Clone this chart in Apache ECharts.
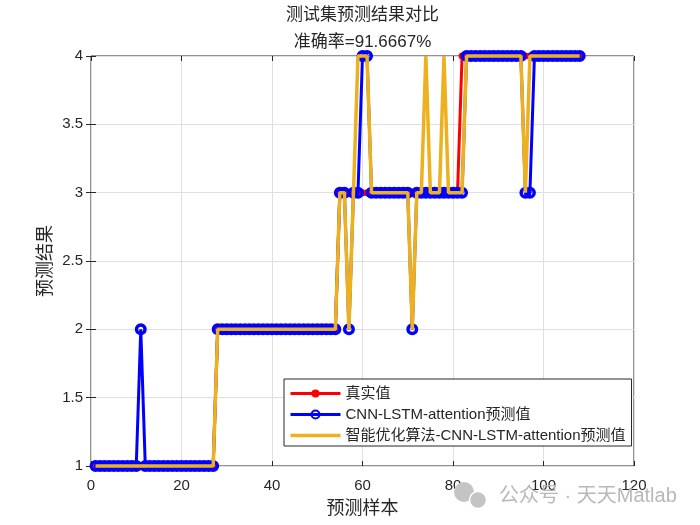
<!DOCTYPE html>
<html><head><meta charset="utf-8">
<script src="https://cdn.jsdelivr.net/npm/echarts@6/dist/echarts.min.js"></script>
<style>html,body{margin:0;padding:0;background:#fff}#c{width:700px;height:525px}</style>
</head><body><div id="c"></div>
<script>
const titleLines = ['测试集预测结果对比', '准确率=91.6667%'];
const xAxisName = '预测样本';
const yAxisName = '预测结果';
const seriesNames = ['真实值', 'CNN-LSTM-attention预测值', '智能优化算法-CNN-LSTM-attention预测值'];
const xTickRange = [0, 120, 20];
const yTickRange = [1, 4, 0.5];

const trueValues = [
  1,1,1,1,1,1,1,1,1,1,
  1,1,1,1,1,1,1,1,1,1,
  1,1,1,1,1,1,1,2,2,2,
  2,2,2,2,2,2,2,2,2,2,
  2,2,2,2,2,2,2,2,2,2,
  2,2,2,2,3,3,3,3,3,3,
  3,3,3,3,3,3,3,3,3,3,
  3,3,3,3,3,3,3,3,3,3,
  3,4,4,4,4,4,4,4,4,4,
  4,4,4,4,4,4,4,4,4,4,
  4,4,4,4,4,4,4,4
];
const cnnLstmAttValues = [
  1,1,1,1,1,1,1,1,1,1,
  2,1,1,1,1,1,1,1,1,1,
  1,1,1,1,1,1,1,2,2,2,
  2,2,2,2,2,2,2,2,2,2,
  2,2,2,2,2,2,2,2,2,2,
  2,2,2,2,3,3,2,3,3,4,
  4,3,3,3,3,3,3,3,3,3,
  2,3,3,3,3,3,3,3,3,3,
  3,3,4,4,4,4,4,4,4,4,
  4,4,4,4,4,3,3,4,4,4,
  4,4,4,4,4,4,4,4
];
const optimizedValues = [
  1,1,1,1,1,1,1,1,1,1,
  1,1,1,1,1,1,1,1,1,1,
  1,1,1,1,1,1,1,2,2,2,
  2,2,2,2,2,2,2,2,2,2,
  2,2,2,2,2,2,2,2,2,2,
  2,2,2,2,3,3,2,3,4,4,
  4,3,3,3,3,3,3,3,3,3,
  2,3,3,4,3,3,3,4,3,3,
  3,3,4,4,4,4,4,4,4,4,
  4,4,4,4,4,3,4,4,4,4,
  4,4,4,4,4,4,4,4
];

const toPairs = arr => arr.map((v, i) => [i + 1, v]);
const FONT = "'Liberation Sans', 'Noto Sans CJK SC', sans-serif";
const TXT = '#262626';
const ORANGE = '#edb120';

const chart = echarts.init(document.getElementById('c'), null, {renderer: 'canvas'});

const axisCommon = {
  axisLine: {show: false},
  axisTick: {show: true, inside: true, length: 5, lineStyle: {color: TXT, width: 1}},
};

chart.setOption({
  animation: false,
  backgroundColor: '#fff',
  title: {
    text: titleLines.join('\n'),
    left: 362.5, top: 2, padding: 0,
    textAlign: 'center',
    textStyle: {fontFamily: FONT, fontSize: 17, fontWeight: 'normal', color: TXT, lineHeight: 27}
  },
  grid: {left: 91, right: 66, top: 56, bottom: 59, show: true, borderColor: TXT, borderWidth: 1, backgroundColor: '#fff'},
  legend: {
    orient: 'vertical',
    left: 284, top: 379,
    padding: [7, 6, 3, 5],
    itemGap: 6,
    itemWidth: 50, itemHeight: 10,
    backgroundColor: '#fff',
    borderColor: TXT, borderWidth: 1, borderRadius: 0,
    lineStyle: {width: 3},
    textStyle: {fontFamily: FONT, fontSize: 15, color: TXT},
    data: [
      {name: seriesNames[0]},
      {name: seriesNames[1]},
      {name: seriesNames[2], icon: 'path://M0,0L50,0L50,3.5L0,3.5Z', itemStyle: {color: ORANGE}}
    ]
  },
  xAxis: [
    Object.assign({}, axisCommon, {
      type: 'value', min: xTickRange[0], max: xTickRange[1], interval: xTickRange[2],
      name: xAxisName, nameLocation: 'middle', nameGap: 34,
      nameTextStyle: {fontFamily: FONT, fontSize: 18, color: TXT},
      axisLabel: {fontFamily: FONT, fontSize: 15, color: TXT, margin: 12},
      splitLine: {show: true, lineStyle: {color: '#dfdfdf', width: 1}}
    }),
    Object.assign({}, axisCommon, {
      type: 'value', position: 'top', min: xTickRange[0], max: xTickRange[1], interval: xTickRange[2],
      axisLabel: {show: false}, splitLine: {show: false}
    })
  ],
  yAxis: [
    Object.assign({}, axisCommon, {
      type: 'value', min: yTickRange[0], max: yTickRange[1], interval: yTickRange[2],
      name: yAxisName, nameLocation: 'middle', nameGap: 36, nameMoveOverlap: false,
      nameTextStyle: {fontFamily: FONT, fontSize: 18, color: TXT},
      axisLabel: {fontFamily: FONT, fontSize: 15, color: TXT, margin: 8},
      splitLine: {show: true, lineStyle: {color: '#dfdfdf', width: 1}}
    }),
    Object.assign({}, axisCommon, {
      type: 'value', position: 'right', min: yTickRange[0], max: yTickRange[1], interval: yTickRange[2],
      axisLabel: {show: false}, splitLine: {show: false}
    })
  ],
  series: [
    {
      name: seriesNames[0], type: 'line', data: toPairs(trueValues),
      xAxisIndex: 0, yAxisIndex: 0, clip: false, z: 3,
      symbol: 'circle', symbolSize: 7,
      lineStyle: {color: '#ff0000', width: 3},
      itemStyle: {color: '#ff0000', borderWidth: 0}
    },
    {
      name: seriesNames[1], type: 'line', data: toPairs(cnnLstmAttValues),
      xAxisIndex: 0, yAxisIndex: 0, clip: false, z: 4,
      symbol: 'circle', symbolSize: 8.5,
      lineStyle: {color: '#0000ff', width: 3},
      itemStyle: {color: 'rgba(255,255,255,0)', borderColor: '#0000ff', borderWidth: 3.5}
    },
    {
      name: seriesNames[2], type: 'line', data: toPairs(optimizedValues),
      xAxisIndex: 0, yAxisIndex: 0, clip: false, z: 5,
      symbol: 'none',
      lineStyle: {color: ORANGE, width: 3.5},
      itemStyle: {color: ORANGE}
    }
  ],
  graphic: [
    {type: 'circle', shape: {cx: 464, cy: 492, r: 10}, style: {fill: '#c4c4c4'}, z: 100},
    {type: 'circle', shape: {cx: 478, cy: 500, r: 8.5}, style: {fill: '#c4c4c4', stroke: '#fff', lineWidth: 1.5}, z: 101},
    {type: 'text', left: 499, top: 486, z: 100,
     style: {text: '公众号 · 天天Matlab', fontFamily: FONT, fontSize: 20, fill: '#b8b8b8'}}
  ]
});
</script>
</body></html>
